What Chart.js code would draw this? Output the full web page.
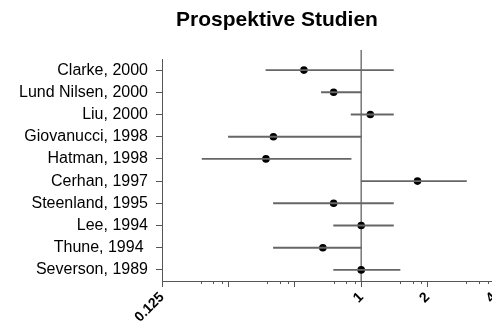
<!DOCTYPE html>
<html>
<head>
<meta charset="utf-8">
<script src="https://cdn.jsdelivr.net/npm/chart.js@4/dist/chart.umd.min.js"></script>
<style>
  html, body { margin: 0; padding: 0; background: #fff; overflow: hidden; }
</style>
</head>
<body>
<canvas id="forestChart" width="500" height="328"></canvas>
<script>
// studies and their relative risks with 95% CI
const studies = ["Clarke, 2000", "Lund Nilsen, 2000", "Liu, 2000", "Giovanucci, 1998", "Hatman, 1998",
  "Cerhan, 1997", "Steenland, 1995", "Lee, 1994", "Thune, 1994 ", "Severson, 1989"];
const estimate = [0.55, 0.75, 1.10, 0.40, 0.37, 1.80, 0.75, 1.00, 0.67, 1.00];
const lower = [0.37, 0.66, 0.90, 0.25, 0.19, 1.00, 0.40, 0.75, 0.40, 0.75];
const upper = [1.40, 1.00, 1.40, 1.00, 0.90, 3.00, 1.40, 1.40, 1.00, 1.50];

// x axis ticks (log scale, base 2)
const tickValues = [0.125, 0.25, 0.5, 1, 2, 4];
const tickLabels = ["0.125", "", "", "1", "2", "4"];
const minorSteps = [1.5, 1.71, 1.87];

const titleText = "Prospektive Studien";
const fontFamily = "'Liberation Sans', Arial, sans-serif";
const axisColor = "#555";

// title, reference line at 1 and the small minor ticks
const extras = {
  id: "extras",
  beforeDatasetsDraw(chart) {
    const { ctx, chartArea, scales } = chart;
    const x1 = scales.x.getPixelForValue(1);
    ctx.save();
    ctx.strokeStyle = "#777";
    ctx.lineWidth = 1.5;
    ctx.beginPath();
    ctx.moveTo(x1, 50);
    ctx.lineTo(x1, chartArea.bottom);
    ctx.stroke();

    ctx.strokeStyle = axisColor;
    ctx.lineWidth = 1;
    ctx.beginPath();
    tickValues.slice(0, -1).forEach((v) => {
      minorSteps.forEach((m) => {
        const px = Math.round(scales.x.getPixelForValue(v * m)) + 0.5;
        ctx.moveTo(px, chartArea.bottom);
        ctx.lineTo(px, chartArea.bottom + 3);
      });
    });
    ctx.stroke();
    ctx.restore();
  },
  afterDraw(chart) {
    const ctx = chart.ctx;
    ctx.save();
    ctx.fillStyle = "#000";
    ctx.font = "bold 21px " + fontFamily;
    ctx.textAlign = "center";
    ctx.textBaseline = "alphabetic";
    ctx.fillText(titleText, 277, 26);
    ctx.restore();
  },
};

const ctx = document.getElementById("forestChart").getContext("2d");

new Chart(ctx, {
  type: "bar",
  data: {
    labels: studies,
    datasets: [
      {
        // confidence intervals as thin floating bars
        type: "bar",
        data: studies.map((_, i) => [lower[i], upper[i]]),
        backgroundColor: "#666",
        barThickness: 1.2,
        borderWidth: 0,
      },
      {
        type: "line",
        data: estimate,
        showLine: false,
        pointRadius: 3.8,
        pointBackgroundColor: "#000",
        pointBorderWidth: 0,
      },
    ],
  },
  options: {
    indexAxis: "y",
    responsive: false,
    animation: false,
    layout: { padding: { top: 59, right: 6, left: 0, bottom: 0 } },
    plugins: {
      legend: { display: false },
      tooltip: { enabled: false },
      title: { display: false },
    },
    scales: {
      x: {
        type: "logarithmic",
        min: 0.125,
        max: 4,
        afterBuildTicks: (s) => {
          s.ticks = tickValues.map((v) => ({ value: v }));
        },
        afterFit: (s) => {
          s.height = 47;
          s.paddingLeft = 0;
          s.paddingRight = 0;
        },
        grid: { drawOnChartArea: false, tickLength: 6, color: axisColor },
        border: { color: axisColor },
        ticks: {
          autoSkip: false,
          minRotation: 45,
          maxRotation: 45,
          padding: 2,
          color: "#000",
          font: { family: fontFamily, size: 14, weight: "bold" },
          callback: (value, index) => tickLabels[index],
        },
      },
      y: {
        afterFit: (s) => {
          s.width = 162;
        },
        grid: { drawOnChartArea: false, offset: false, tickLength: 6, color: axisColor },
        border: { color: axisColor },
        ticks: {
          padding: 8,
          color: "#000",
          font: { family: fontFamily, size: 16 },
        },
      },
    },
  },
  plugins: [extras],
});
</script>
</body>
</html>
